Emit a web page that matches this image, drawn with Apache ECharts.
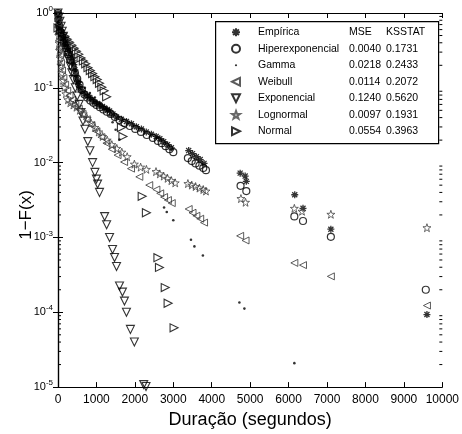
<!DOCTYPE html>
<html>
<head>
<meta charset="utf-8">
<script src="https://cdn.jsdelivr.net/npm/echarts@6/dist/echarts.min.js"></script>
<style>
  html, body { margin: 0; padding: 0; background: #fff; }
  #chart { width: 462px; height: 434px; }
</style>
</head>
<body>
<div id="chart"></div>
<script>
// Complementary CDF 1-F(x) of session durations: empirical sample and six fitted models.

// Empirical survival values
const empiricaX = [0, 3, 8, 15, 26, 40, 52, 75, 103, 130, 155, 180, 206, 245, 284, 320, 361, 390, 413, 440, 465, 490, 516, 540, 568, 630, 697, 760, 826, 890, 955, 1020, 1084, 1150, 1213, 1280, 1342, 1430, 1523, 1650, 1781, 1910, 2039, 2170, 2297, 2430, 2555, 2650, 2750, 2850, 2950, 3400, 3500, 3600, 3700, 3800, 4740, 4870, 4900, 6160, 6375, 7100, 9600];
const empiricaY = [1, 0.933, 0.851, 0.776, 0.692, 0.631, 0.589, 0.550, 0.513, 0.468, 0.437, 0.398, 0.372, 0.339, 0.309, 0.282, 0.251, 0.229, 0.204, 0.174, 0.148, 0.132, 0.120, 0.110, 0.100, 0.0912, 0.0832, 0.0776, 0.0741, 0.0692, 0.0646, 0.0617, 0.0589, 0.0562, 0.0537, 0.0513, 0.0490, 0.0447, 0.0407, 0.0380, 0.0355, 0.0331, 0.0302, 0.0282, 0.0257, 0.0240, 0.0224, 0.0209, 0.0191, 0.0174, 0.0158, 0.0145, 0.0132, 0.0120, 0.0110, 0.00977, 0.00724, 0.00661, 0.00562, 0.00372, 0.00245, 0.00129, 0.0000933];

// Hyperexponential fit
const hiperX = [0, 10, 30, 60, 100, 150, 200, 260, 320, 380, 440, 500, 560, 620, 690, 760, 840, 920, 1000, 1090, 1180, 1270, 1370, 1480, 1600, 1730, 1870, 2010, 2160, 2310, 2470, 2600, 2700, 2800, 2900, 3000, 3380, 3480, 3580, 3680, 3780, 3850, 4750, 4900, 6150, 6375, 7100, 9570];
const hiperY = [1, 0.832, 0.676, 0.562, 0.479, 0.398, 0.339, 0.282, 0.234, 0.191, 0.158, 0.132, 0.110, 0.0933, 0.0813, 0.0741, 0.0676, 0.0631, 0.0589, 0.0550, 0.0513, 0.0479, 0.0447, 0.0407, 0.0372, 0.0339, 0.0309, 0.0282, 0.0257, 0.0234, 0.0214, 0.0195, 0.0182, 0.0166, 0.0151, 0.0138, 0.0115, 0.0105, 0.00977, 0.00912, 0.00851, 0.00794, 0.00490, 0.00417, 0.00191, 0.00166, 0.00102, 0.000200];

// Gamma fit
const gammaX = [1, 3, 7, 14, 25, 45, 80, 130, 200, 280, 370, 470, 580, 700, 830, 960, 1100, 1260, 1340, 1420, 1500, 1600, 2760, 2830, 3000, 3460, 3550, 3770, 4720, 4850, 6150];
const gammaY = [0.912, 0.794, 0.676, 0.575, 0.501, 0.437, 0.380, 0.331, 0.282, 0.240, 0.200, 0.166, 0.120, 0.100, 0.0851, 0.0741, 0.0631, 0.0513, 0.0427, 0.0347, 0.0275, 0.0204, 0.00251, 0.00219, 0.00170, 0.000933, 0.000759, 0.000575, 0.000135, 0.000112, 0.0000209];

// Weibull fit
const weibullX = [3, 8, 15, 25, 38, 55, 78, 105, 140, 185, 240, 300, 370, 450, 540, 640, 750, 870, 1000, 1130, 1260, 1400, 1550, 1720, 1900, 2116, 2374, 2560, 2660, 2760, 2860, 2960, 3400, 3500, 3600, 3700, 3800, 4740, 4880, 6150, 6375, 7100, 9600];
const weibullY = [0.832, 0.676, 0.537, 0.427, 0.339, 0.269, 0.214, 0.170, 0.135, 0.110, 0.0912, 0.0794, 0.0692, 0.0603, 0.0525, 0.0447, 0.0380, 0.0316, 0.0263, 0.0219, 0.0182, 0.0151, 0.0126, 0.0102, 0.00832, 0.00646, 0.00501, 0.00437, 0.00389, 0.00347, 0.00316, 0.00288, 0.00240, 0.00214, 0.00195, 0.00178, 0.00158, 0.00105, 0.000912, 0.000457, 0.000427, 0.000302, 0.000123];

// Exponential fit
const exponX = [0, 25, 50, 80, 110, 140, 170, 200, 240, 280, 320, 360, 400, 450, 500, 550, 600, 650, 700, 775, 830, 900, 960, 1000, 1030, 1080, 1213, 1265, 1342, 1419, 1471, 1523, 1600, 1677, 1729, 1781, 1884, 1987, 2230, 2290];
const exponY = [1, 0.88, 0.774, 0.664, 0.570, 0.489, 0.420, 0.360, 0.293, 0.239, 0.195, 0.159, 0.129, 0.100, 0.0776, 0.0601, 0.0466, 0.0361, 0.0279, 0.0191, 0.0144, 0.0100, 0.0074, 0.00603, 0.00517, 0.0040, 0.0019, 0.00148, 0.0010, 0.00069, 0.00054, 0.00041, 0.000224, 0.000186, 0.000141, 0.0001, 0.000059, 0.000040, 0.0000108, 0.0000102];

// Lognormal fit
const lognX = [2, 5, 10, 18, 28, 40, 55, 75, 100, 130, 165, 205, 258, 320, 400, 480, 568, 660, 760, 860, 960, 1060, 1161, 1280, 1400, 1530, 1660, 1800, 1987, 2150, 2300, 2550, 2650, 2750, 2850, 2950, 3050, 3380, 3480, 3580, 3680, 3780, 3850, 4760, 4880, 6150, 6350, 7100, 9600];
const lognY = [0.891, 0.759, 0.631, 0.501, 0.398, 0.316, 0.251, 0.200, 0.158, 0.126, 0.102, 0.0832, 0.0692, 0.0631, 0.0589, 0.0550, 0.0501, 0.0447, 0.0389, 0.0339, 0.0295, 0.0257, 0.0224, 0.0200, 0.0174, 0.0155, 0.0138, 0.0120, 0.00955, 0.00871, 0.00813, 0.00759, 0.00708, 0.00661, 0.00617, 0.00575, 0.00537, 0.00525, 0.00501, 0.00479, 0.00457, 0.00437, 0.00417, 0.00331, 0.00295, 0.00245, 0.00224, 0.00204, 0.00135];

// Normal fit
const normalX = [0, 60, 120, 180, 240, 300, 360, 420, 480, 540, 600, 660, 720, 780, 840, 900, 960, 1020, 1080, 1140, 1200, 1265, 1650, 1690, 2190, 2300, 2600, 2640, 2790, 2865, 3020];
const normalY = [0.631, 0.589, 0.537, 0.490, 0.447, 0.407, 0.372, 0.339, 0.309, 0.282, 0.251, 0.229, 0.209, 0.186, 0.170, 0.155, 0.141, 0.129, 0.115, 0.102, 0.0912, 0.0759, 0.0295, 0.0224, 0.00355, 0.00214, 0.000537, 0.000398, 0.000214, 0.000132, 0.000062];

// Legend table
const seriesNames = ['Empírica', 'Hiperexponencial', 'Gamma', 'Weibull', 'Exponencial', 'Lognormal', 'Normal'];
const mseValues = ['MSE', '0.0040', '0.0218', '0.0114', '0.1240', '0.0097', '0.0554'];
const ksValues = ['KSSTAT', '0.1731', '0.2433', '0.2072', '0.5620', '0.1931', '0.3963'];

// Axis ticks
const xTickValues = [0, 1000, 2000, 3000, 4000, 5000, 6000, 7000, 8000, 9000, 10000];
const yExponents = [-5, -4, -3, -2, -1, 0];

const FONT = "'Liberation Sans', Arial, sans-serif";

const SYMBOLS = {
  asterisk: 'path://M0,-5L0,5M-5,0L5,0M-3.6,-3.6L3.6,3.6M3.6,-3.6L-3.6,3.6',
  left: 'path://M-5,0L5,-5L5,5Z',
  right: 'path://M5,0L-5,-5L-5,5Z',
  down: 'path://M-5,-5L5,-5L0,5Z',
  star: 'path://M0,-10L2.35,-3.24L9.51,-3.09L3.8,1.24L5.88,8.09L0,4L-5.88,8.09L-3.8,1.24L-9.51,-3.09L-2.35,-3.24Z',
  // small dot inside a wider invisible frame, so the legend icon stays a dot
  dotIcon: 'path://M-5,-5M5,5M-1.4,0A1.4,1.4,0,1,0,1.4,0A1.4,1.4,0,1,0,-1.4,0Z'
};

function pairs(xs, ys) { return xs.map((x, i) => [x, ys[i]]); }

const outline = (c, w) => ({ color: 'rgba(0,0,0,0)', borderColor: c, borderWidth: w });

const seriesDefs = [
  { name: seriesNames[0], data: pairs(empiricaX, empiricaY), symbol: SYMBOLS.asterisk, symbolSize: 7, itemStyle: outline('#000', 1.3) },
  { name: seriesNames[1], data: pairs(hiperX, hiperY), symbol: 'circle', symbolSize: 7, itemStyle: outline('#000', 1.2) },
  { name: seriesNames[2], data: pairs(gammaX, gammaY), symbol: 'circle', symbolSize: 2.6, itemStyle: { color: '#000' } },
  { name: seriesNames[3], data: pairs(weibullX, weibullY), symbol: SYMBOLS.left, symbolSize: 7, itemStyle: outline('#333', 1) },
  { name: seriesNames[4], data: pairs(exponX, exponY), symbol: SYMBOLS.down, symbolSize: 8, itemStyle: outline('#000', 1.1) },
  { name: seriesNames[5], data: pairs(lognX, lognY), symbol: SYMBOLS.star, symbolSize: 8, itemStyle: outline('#444', 1) },
  { name: seriesNames[6], data: pairs(normalX, normalY), symbol: SYMBOLS.right, symbolSize: 8, itemStyle: outline('#000', 1.1) }
];

// Log-axis minor tick positions (2..9 within each decade)
const minorTicks = [];
for (const e of yExponents.slice(0, -1)) {
  for (let k = 2; k <= 9; k++) minorTicks.push(k * Math.pow(10, e));
}

const chart = echarts.init(document.getElementById('chart'), null, { renderer: 'canvas' });

const LEG_FS = 10.5;
const LEG_LH = 16.5;
const legendRich = {
  n: { fontFamily: FONT, fontSize: LEG_FS, color: '#000', width: 91, padding: [0, 0, 0, 13], lineHeight: LEG_LH },
  m: { fontFamily: FONT, fontSize: LEG_FS, color: '#000', width: 37, lineHeight: LEG_LH },
  k: { fontFamily: FONT, fontSize: LEG_FS, color: '#000', lineHeight: LEG_LH }
};

const legendData = seriesNames.map(n => (n === 'Gamma' ? { name: n, icon: SYMBOLS.dotIcon } : n));

const option = {
  animation: false,
  backgroundColor: '#fff',
  textStyle: { fontFamily: FONT, color: '#000' },
  grid: { left: 58, right: 17, top: 13, bottom: 46, containLabel: false },
  xAxis: [
    {
      type: 'value', min: 0, max: 10000, interval: 1000, position: 'bottom',
      name: 'Duração (segundos)', nameLocation: 'middle', nameGap: 20,
      nameTextStyle: { fontFamily: FONT, fontSize: 18, color: '#000' },
      axisLine: { show: true, lineStyle: { color: '#000', width: 1.2 } },
      axisTick: { show: true, inside: true, length: 5, lineStyle: { color: '#000' } },
      axisLabel: { fontFamily: FONT, fontSize: 12, color: '#000', margin: 7,
        formatter: v => (xTickValues.indexOf(v) >= 0 ? String(v) : '') },
      splitLine: { show: false }
    },
    {
      type: 'value', min: 0, max: 10000, interval: 1000, position: 'top',
      axisLine: { show: true, lineStyle: { color: '#000', width: 1.2 } },
      axisTick: { show: true, inside: true, length: 5, lineStyle: { color: '#000' } },
      axisLabel: { show: false }, splitLine: { show: false }
    }
  ],
  yAxis: [
    {
      type: 'log', logBase: 10, min: 1e-5, max: 1, position: 'left',
      axisLine: { show: true, lineStyle: { color: '#000', width: 1.2 } },
      axisTick: { show: true, inside: true, length: 5, lineStyle: { color: '#000' } },
      axisLabel: {
        margin: 5,
        formatter: v => '{b|10}{e|' + Math.round(Math.log10(v)) + '}',
        rich: {
          b: { fontFamily: FONT, fontSize: 11, color: '#000' },
          e: { fontFamily: FONT, fontSize: 8, color: '#000', padding: [0, 0, 8, 0] }
        }
      },
      splitLine: { show: false }
    },
    {
      type: 'log', logBase: 10, min: 1e-5, max: 1, position: 'right',
      axisLine: { show: true, lineStyle: { color: '#000', width: 1.2 } },
      axisTick: { show: true, inside: true, length: 5, lineStyle: { color: '#000' } },
      axisLabel: { show: false }, splitLine: { show: false }
    }
  ],
  legend: {
    orient: 'vertical', left: 226, top: 19, itemWidth: 8, itemHeight: 8, itemGap: 0,
    selectedMode: false, data: legendData,
    formatter: name => {
      const i = seriesNames.indexOf(name);
      return '{n|' + name + '}{m|' + mseValues[i] + '}{k|' + ksValues[i] + '}';
    },
    textStyle: { fontFamily: FONT, fontSize: LEG_FS, lineHeight: LEG_LH, color: '#000', rich: legendRich }
  },
  graphic: [
    {
      type: 'rect', left: 215, top: 21, z: 100,
      shape: { width: 223, height: 122 },
      style: { fill: 'rgba(0,0,0,0)', stroke: '#000', lineWidth: 1.2 }
    },
    {
      type: 'text', x: 26, y: 215, rotation: Math.PI / 2, z: 100,
      style: { text: '1−F(x)', fontFamily: FONT, fontSize: 17, fill: '#000', align: 'center', verticalAlign: 'middle' }
    }
  ],
  series: seriesDefs.map(s => Object.assign({ type: 'scatter', xAxisIndex: 0, yAxisIndex: 0, clip: true }, s)).concat([
    {
      type: 'custom', name: 'minorTicks', silent: true, clip: false, z: 3,
      xAxisIndex: 0, yAxisIndex: 0,
      data: minorTicks.map(v => [0, v]),
      renderItem: (params, api) => {
        const v = api.value(1);
        const pl = api.coord([0, v]);
        const pr = api.coord([10000, v]);
        return {
          type: 'group',
          children: [
            { type: 'line', shape: { x1: pl[0], y1: pl[1], x2: pl[0] + 3, y2: pl[1] }, style: { stroke: '#000', lineWidth: 1 } },
            { type: 'line', shape: { x1: pr[0] - 3, y1: pr[1], x2: pr[0], y2: pr[1] }, style: { stroke: '#000', lineWidth: 1 } }
          ]
        };
      }
    }
  ])
};

chart.setOption(option);
</script>
</body>
</html>
